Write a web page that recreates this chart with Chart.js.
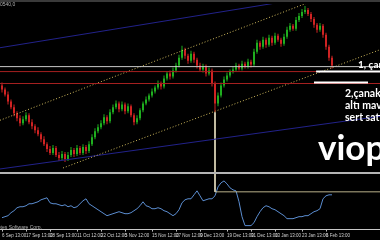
<!DOCTYPE html>
<html><head><meta charset="utf-8">
<script src="https://cdn.jsdelivr.net/npm/chart.js@4/dist/chart.umd.min.js"></script>
<style>
html,body{margin:0;padding:0;background:#000;}
#wrap{position:relative;width:380px;height:240px;overflow:hidden;background:#000;}
#c{position:absolute;left:0;top:0;}
.ann{position:absolute;color:#fff;font-family:Lato,'Open Sans',sans-serif;font-weight:700;white-space:nowrap;line-height:1;}
.small{position:absolute;color:#b0b0b0;font-family:'Liberation Sans',sans-serif;font-size:5px;white-space:nowrap;line-height:1;}
</style></head><body>
<div id="wrap">
<canvas id="c" width="380" height="240"></canvas>
<div style="position:absolute;left:0;top:0;width:380px;height:2px;background:#3a3a3a"></div>
<div class="small" style="left:0;top:2px;">0540,0</div>
<div class="ann" style="left:358px;top:59px;font-size:10px;">1, çanak</div>
<div class="ann" style="left:345px;top:88px;font-size:10.5px;">2,çanak oluşumu</div>
<div class="ann" style="left:345px;top:100px;font-size:10.5px;">altı mavi</div>
<div class="ann" style="left:345px;top:112px;font-size:10.5px;">sert satış</div>
<div class="ann" style="left:318px;top:129px;font-size:35px;">viop</div>
<div class="small" style="left:-20px;top:225px;">MetaQuotes Software Corp.</div>
</div>
<script>
// ---- data ----
const tickIndex = [0, 8, 16, 25, 33, 41, 50, 58, 66, 75, 83, 91, 100, 108];
const tickLabels = ["6 Sep 13:00","17 Sep 13:00","28 Sep 13:00","11 Oct 12:00","22 Oct 12:00","5 Nov 12:00","15 Nov 12:00","27 Nov 12:00","9 Dec 13:00","19 Dec 13:00","31 Dec 13:00","13 Jan 13:00","23 Jan 13:00","6 Feb 13:00"];

const opens = [94,90,85,78,72,66,61,56,60,64, 57,53,49,45,40,35,30,26,31,24, 21,25,20,24,29,25,31,26,32,28,
 35,42,48,52,56,62,58,67,72,76, 70,75,68,73,64,57,61,69,76,80, 84,88,92,96,93,101,106,103,109,114,
 122,130,124,119,126,120,114,110,113,106, 109,96,76,84,94,100,104,108,110,114, 111,116,113,118,115,128,137,133,140,135,
 142,137,144,140,136,143,150,154,151,160, 164,168,170,166,161,155,150,154,145,133, 122];
const closes = [90,85,78,72,66,61,56,60,64,57, 53,49,45,40,35,30,26,31,24,21, 25,20,24,29,25,31,26,32,28,35,
 42,48,52,56,62,58,67,72,76,70, 75,68,73,64,57,61,69,76,80,84, 88,92,96,93,101,106,103,109,114,122,
 130,124,119,126,120,114,110,113,106,109, 96,76,84,94,100,104,108,110,114,111, 116,113,118,115,128,137,133,140,135,142,
 137,144,140,136,143,150,154,151,160,164, 168,170,166,161,155,150,154,145,133,122, 114];
const highs = [97,92,88,80,75,68,64,63,67,66, 60,55,52,47,43,37,33,34,33,27, 28,27,27,32,31,34,33,35,34,38,
 45,51,55,59,65,64,70,75,79,78, 78,77,76,75,66,64,71,78,83,86, 91,94,99,98,104,108,109,112,117,125,
 134,132,126,129,128,122,117,116,115,112, 111,98,87,97,103,107,110,113,117,116, 119,118,121,120,131,140,139,143,142,145,
 144,147,146,142,146,153,157,156,163,167, 171,174,172,168,163,157,157,156,147,135, 124];
const lows = [87,83,75,70,63,58,53,54,58,55, 50,46,43,37,33,27,24,24,22,18, 19,17,18,22,22,23,24,24,25,26,
 33,40,46,50,54,55,56,65,70,67, 68,65,66,62,54,55,59,67,74,78, 82,86,90,90,91,99,100,101,107,112,
 120,121,116,117,117,111,108,107,103,104, 93,67,73,82,92,98,102,106,108,109, 109,111,111,112,113,126,130,131,132,133,
 134,135,138,133,134,141,148,149,149,158, 162,166,164,158,152,147,148,142,130,119, 111];
const oscillator = [24,25.5,27,31.5,34.5,39,40.5,40.5,42,45, 45,46.5,48,51,52.5,54,46.5,45,45,43.5,
 42,43.5,40.5,42,39,40.5,45,49.5,52.5,45, 42,39,36,33,30,27,28.5,30,31.5,33,
 31.5,30,30,31.5,34.5,37.5,42,48,42,40.5, 37.5,37.5,39,37.5,34.5,33,30,27,30,36,
 46.5,51,52.5,52.5,58.5,64.5,57,49.5,51,52.5, 52.5,57,70.5,76.5,79.5,75,69,66,64.5,48,
 25.5,12,12,12,16.5,25.5,33,39,42,40.5, 37.5,36,33,30,27,22.5,22.5,22.5,24,25.5,
 25.5,27,27,30,33,34.5,37.5,52.5,57,58.5, 58.5];

// horizontal price levels and drawn objects (price units / bar index)
const levelWhite = 113;
const levelRed = [108, 96];
const channelUpper = [[-0.667, 59], [126, 205]];
const channelLower = [[20.33, 11], [126, 130]];
const blueUpper = [[-0.667, 132], [126, 194]];
const blueLower = [[-0.667, 10], [126, 63]];
const markBar = 71, markTop = 67, markBottom = -13;
const oscLevel = 63;
const noteBars = [[104.7, 126, 108], [104, 122, 97]];
const separatorLevel = 6;

// ---- layout constants ----
const X_MIN = -0.667, X_MAX = 126;
const MAIN_MIN = -51, MAIN_MAX = 176;
const OSC_MIN = 6, OSC_MAX = 346.5;
const UP = '#1fae1f', DOWN = '#cf2323';

const idx = closes.map((_, i) => i);
const candleColor = idx.map(i => closes[i] >= opens[i] ? UP : DOWN);
const seg = (pts) => pts.map(p => ({x: p[0], y: p[1]}));
const hline = (x0, x1, y) => [{x: x0, y}, {x: x1, y}];
const lineDs = (data, color, width, extra) => Object.assign({type: 'line', data, borderColor: color, borderWidth: width, pointRadius: 0, fill: false, yAxisID: 'y'}, extra || {});

const datasets = [
  ...noteBars.map(b => lineDs(hline(b[0], b[1], b[2]), '#ffffff', 2)),
  lineDs(hline(X_MIN, X_MAX, levelWhite), '#c8c8c8', 1),
  ...levelRed.map(l => lineDs(hline(X_MIN, X_MAX, l), '#a52020', 1)),
  lineDs(seg(channelUpper), '#cdb85c', 1, {borderDash: [1, 2]}),
  lineDs(seg(channelLower), '#cdb85c', 1, {borderDash: [1, 2]}),
  lineDs(seg(blueUpper), '#22228a', 1),
  lineDs(seg(blueLower), '#22228a', 1),
  lineDs(hline(X_MIN, X_MAX, separatorLevel), '#b4b4b4', 2),
  lineDs([{x: markBar, y: markTop}, {x: markBar, y: markBottom}], '#ddd6b8', 1),
  lineDs(hline(markBar, X_MAX, oscLevel), '#b9b089', 1, {yAxisID: 'y2'}),
  lineDs(idx.map(i => ({x: i, y: oscillator[i]})), '#5b8dd0', 1, {yAxisID: 'y2'}),
  {type: 'bar', data: idx.map(i => ({x: i, y: [opens[i], closes[i]]})), backgroundColor: candleColor,
   barThickness: 2, grouped: false, borderWidth: 0, inflateAmount: 0, yAxisID: 'y'},
  {type: 'bar', data: idx.map(i => ({x: i, y: [lows[i], highs[i]]})), backgroundColor: candleColor,
   barThickness: 1, grouped: false, borderWidth: 0, inflateAmount: 0, yAxisID: 'y'}
];

new Chart(document.getElementById('c'), {
  type: 'bar',
  data: {datasets},
  options: {
    responsive: false, animation: false, devicePixelRatio: 1,
    layout: {padding: {left: 0, right: 0, top: 4, bottom: 1}},
    plugins: {legend: {display: false}, tooltip: {enabled: false}},
    elements: {line: {tension: 0}, point: {radius: 0}},
    scales: {
      x: {type: 'linear', min: X_MIN, max: X_MAX, offset: false,
        grid: {display: true, offset: false, drawOnChartArea: false, drawTicks: true, tickLength: 2, color: '#bdbdbd'},
        border: {display: true, color: '#c8c8c8', width: 1},
        ticks: {autoSkip: false, maxRotation: 0, minRotation: 0, align: 'start', padding: 1, color: '#d2d2d2',
          font: {family: "'Liberation Sans Narrow','Liberation Sans',sans-serif", size: 4.5},
          callback: (v, i) => tickLabels[i]},
        afterBuildTicks: (ax) => { ax.ticks = tickIndex.map(v => ({value: v})); }
      },
      y: {display: false, min: MAIN_MIN, max: MAIN_MAX},
      y2: {display: false, min: OSC_MIN, max: OSC_MAX}
    }
  }
});
</script>
</body></html>
